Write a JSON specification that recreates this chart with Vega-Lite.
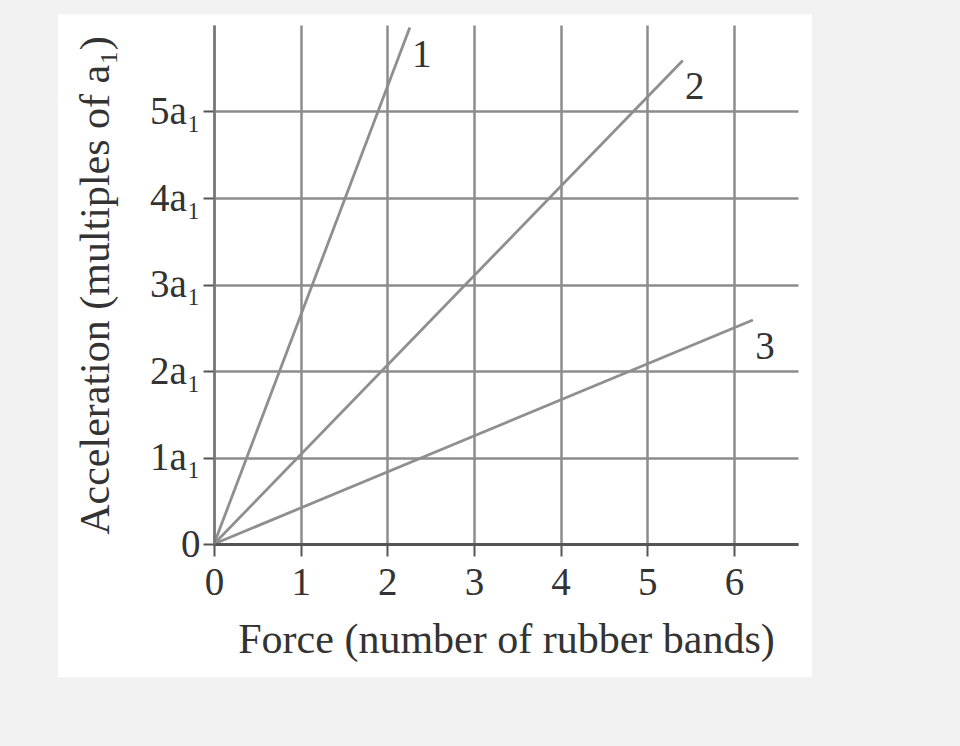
{
  "$schema": "https://vega.github.io/schema/vega-lite/v6.json",
  "width": 584,
  "height": 519,
  "autosize": {"type": "none"},
  "padding": {"left": 214, "top": 25, "right": 162, "bottom": 202},
  "background": "#f2f2f2",
  "config": {
    "view": {"stroke": null},
    "font": "Liberation Serif",
    "axis": {
      "labelFont": "Liberation Serif",
      "titleFont": "Liberation Serif",
      "labelFontSize": 39,
      "titleFontSize": 42,
      "labelColor": "#333333",
      "titleColor": "#333333",
      "titleFontWeight": "normal",
      "grid": true,
      "gridColor": "#8c8c8c",
      "gridWidth": 2.5,
      "gridOpacity": 1,
      "tickColor": "#555555",
      "tickWidth": 2,
      "domainColor": "#666666"
    }
  },
  "datasets": {
    "lines": [
      {"line": "1", "force": 0, "accel": 0},
      {"line": "1", "force": 2.26, "accel": 5.97},
      {"line": "2", "force": 0, "accel": 0},
      {"line": "2", "force": 5.41, "accel": 5.59},
      {"line": "3", "force": 0, "accel": 0},
      {"line": "3", "force": 6.22, "accel": 2.59}
    ],
    "panel": [{}]
  },
  "layer": [
    {
      "data": {"name": "panel"},
      "mark": {"type": "rect", "color": "white"},
      "encoding": {
        "x": {"datum": -1.8, "type": "quantitative", "scale": {"domain": [0, 6.74], "nice": false}},
        "x2": {"datum": 6.9},
        "y": {"datum": -1.54, "type": "quantitative", "scale": {"domain": [0, 6], "nice": false}},
        "y2": {"datum": 6.12}
      }
    },
    {
      "data": {"name": "lines"},
      "mark": {"type": "line", "color": "#8f8f8f", "strokeWidth": 2.8},
      "encoding": {
        "x": {
          "field": "force",
          "type": "quantitative",
          "scale": {"domain": [0, 6.74], "nice": false},
          "axis": {
            "values": [0, 1, 2, 3, 4, 5, 6],
            "format": "d",
            "grid": true,
            "title": "Force (number of rubber bands)",
            "titleX": 292,
            "titleY": 108,
            "titleAlign": "center",
            "titleBaseline": "alphabetic",
            "tickSize": 12,
            "labelPadding": 7,
            "domainWidth": 3,
            "domainColor": "#555555",
            "labelFlush": false,
            "zindex": 1
          }
        },
        "y": {
          "field": "accel",
          "type": "quantitative",
          "scale": {"domain": [0, 6], "nice": false},
          "axis": {
            "values": [0, 1, 2, 3, 4, 5],
            "grid": true,
            "labelExpr": "datum.value === 0 ? '0' : datum.value + 'a₁'",
            "title": "Acceleration (multiples of a₁)",
            "titleX": -106,
            "titleY": 260,
            "titleAngle": -90,
            "titleAlign": "center",
            "titleBaseline": "alphabetic",
            "tickSize": 11,
            "labelPadding": 3,
            "domainWidth": 2.5,
            "domainColor": "#777777",
            "labelFlush": false,
            "zindex": 1
          }
        },
        "detail": {"field": "line", "type": "nominal"}
      }
    },
    {
      "data": {"name": "lines"},
      "transform": [{"filter": "datum.force > 0"}],
      "mark": {"type": "text", "font": "Liberation Serif", "fontSize": 39, "color": "#333333", "dx": 12, "dy": 27, "align": "center", "baseline": "middle"},
      "encoding": {
        "x": {"field": "force", "type": "quantitative"},
        "y": {"field": "accel", "type": "quantitative"},
        "text": {"field": "line", "type": "nominal"}
      }
    }
  ]
}
